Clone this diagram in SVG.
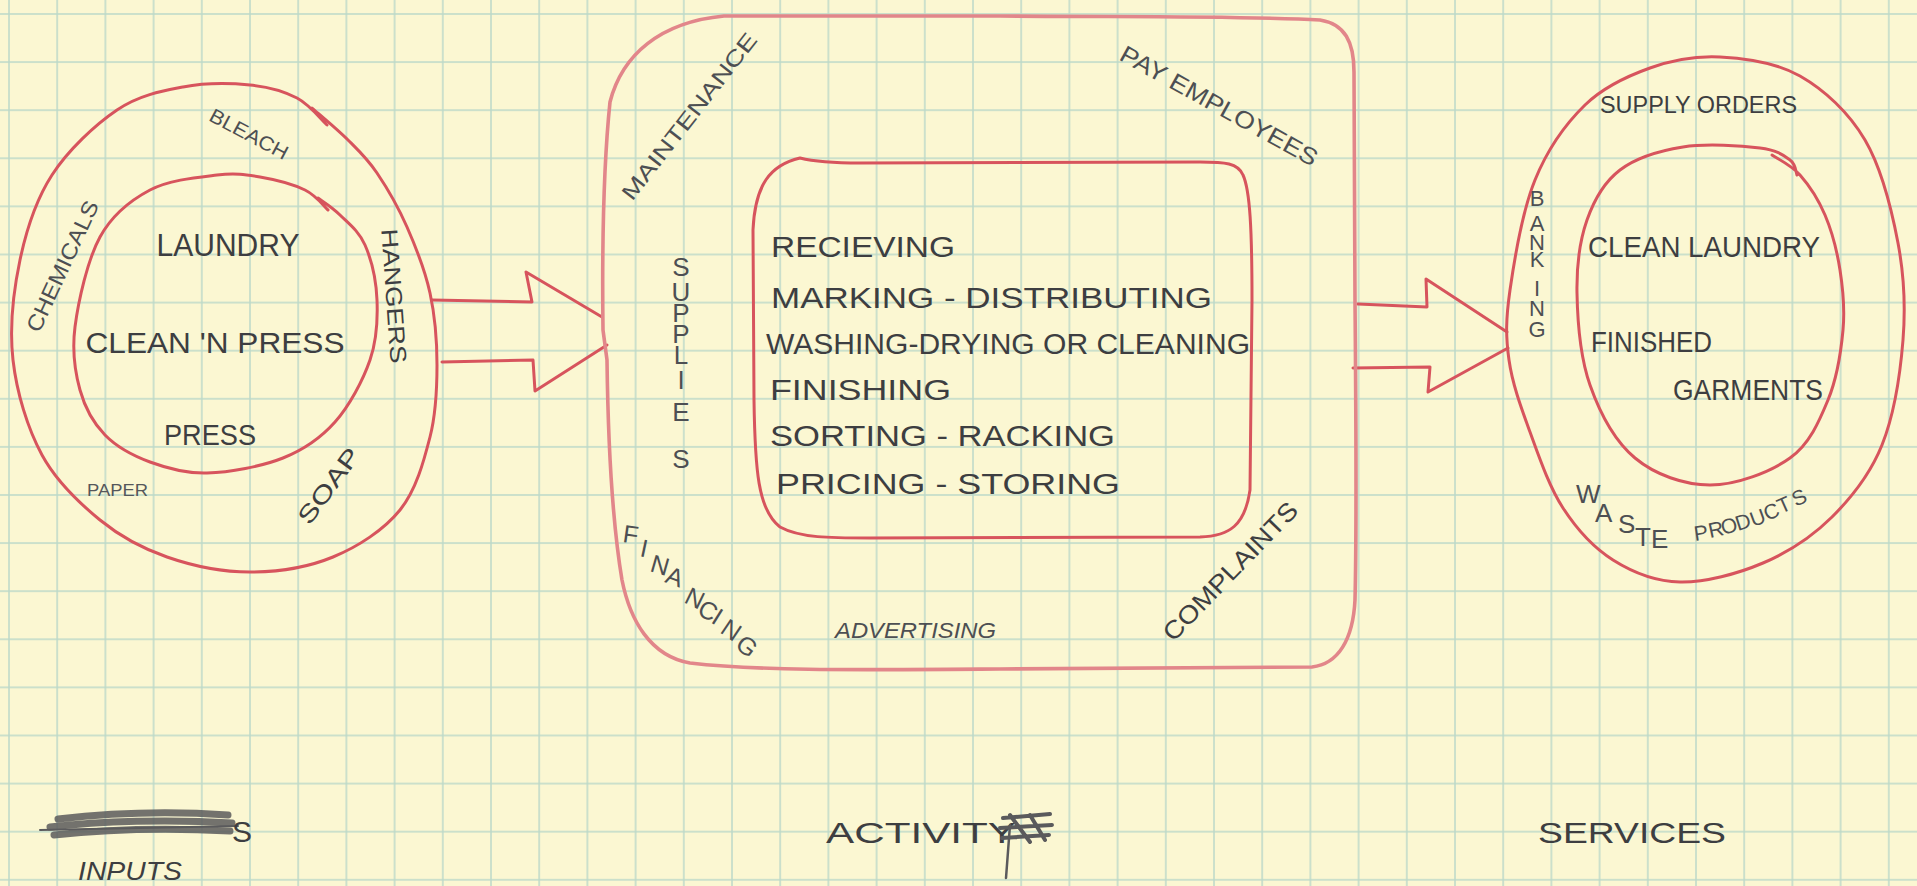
<svg xmlns="http://www.w3.org/2000/svg" width="1917" height="886" viewBox="0 0 1917 886">
<defs>
<pattern id="grid" patternUnits="userSpaceOnUse" x="8" y="13" width="48.2" height="48.1">
<path d="M1,0 V48.1 M0,1 H48.2" fill="none" stroke="#bcd9c9" stroke-width="1.5"/>
</pattern>
</defs>
<style>
.red{fill:none;stroke:#d7545d;stroke-width:3;stroke-linecap:round;stroke-linejoin:round}
.pink{fill:none;stroke:#e2868a;stroke-width:3.6;stroke-linecap:round;stroke-linejoin:round}
.t{font-family:"Liberation Sans",Arial,sans-serif;fill:#3d3e41}
.big{font-size:30px}
.mid{font-size:22px}
.sm{font-size:22px;fill:#4d4f53}
.xs{font-size:16px;fill:#55575b}
.scrib{fill:none;stroke:#5a5a5c;stroke-linecap:round}
</style>
<rect width="1917" height="886" fill="#fbf7d2"/>
<rect width="1917" height="886" fill="url(#grid)"/>

<g id="inputs">
<path class="red" d="M327,125 C322,120.5 309.8,104.7 297,98 C284.2,91.3 269,86.8 250,85 C231,83.2 205.2,82.8 183,87 C160.8,91.2 138.8,95.3 117,110 C95.2,124.7 68.2,150 52,175 C35.8,200 26.5,229.2 20,260 C13.5,290.8 9.3,327.5 13,360 C16.7,392.5 27.5,428.3 42,455 C56.5,481.7 79.2,503 100,520 C120.8,537 142,548.3 167,557 C192,565.7 222.3,572 250,572 C277.7,572 308,567.3 333,557 C358,546.7 383.8,530 400,510 C416.2,490 423.8,461.2 430,437 C436.2,412.8 437,389 437,365 C437,341 435,316 430,293 C425,270 415.8,247 407,227 C398.2,207 386.8,187.5 377,173 C367.2,158.5 358.8,150.8 348,140 C337.2,129.2 318,113.3 312,108"/>
<path class="red" d="M328,210 C324.2,206.7 316.3,195.5 305,190 C293.7,184.5 274.7,179.5 260,177 C245.3,174.5 235.3,172.8 217,175 C198.7,177.2 169.5,179.7 150,190 C130.5,200.3 112.5,214.2 100,237 C87.5,259.8 78.3,301.5 75,327 C71.7,352.5 75,372 80,390 C85,408 93.3,423 105,435 C116.7,447 133,455.7 150,462 C167,468.3 184.8,473.7 207,473 C229.2,472.3 261.7,466.5 283,458 C304.3,449.5 320.5,438.3 335,422 C349.5,405.7 363,380.3 370,360 C377,339.7 377.8,319.2 377,300 C376.2,280.8 371.2,259.2 365,245 C358.8,230.8 347.8,222.8 340,215 C332.2,207.2 321.7,200.8 318,198"/>
<text class="t" style="font-size:32px" x="228" y="256" text-anchor="middle" textLength="143" lengthAdjust="spacingAndGlyphs">LAUNDRY</text>
<text class="t" style="font-size:30px" x="215" y="353" text-anchor="middle" textLength="259" lengthAdjust="spacingAndGlyphs">CLEAN 'N PRESS</text>
<text class="t" style="font-size:30px" x="210" y="445" text-anchor="middle" textLength="92" lengthAdjust="spacingAndGlyphs">PRESS</text>
<text class="t sm" style="font-size:20px" transform="translate(249,134) rotate(28)" y="7" text-anchor="middle" textLength="86" lengthAdjust="spacingAndGlyphs">BLEACH</text>
<text class="t sm" transform="translate(62,266) rotate(-65)" y="8" text-anchor="middle" textLength="142" lengthAdjust="spacingAndGlyphs">CHEMICALS</text>
<text class="t" style="font-size:23px" transform="translate(394,296) rotate(86)" y="8" text-anchor="middle" textLength="135" lengthAdjust="spacingAndGlyphs">HANGERS</text>
<text class="t" style="font-size:24px" transform="translate(329,486) rotate(-54)" y="8" text-anchor="middle" textLength="88" lengthAdjust="spacingAndGlyphs">SOAP</text>
<text class="t xs" x="87" y="496" textLength="61" lengthAdjust="spacingAndGlyphs">PAPER</text>
</g>

<g id="connectors">
<path class="red" d="M432,300 L532,302 L526,272 L602,317"/>
<path class="red" d="M607,345 L535,391 L533,360 L442,362"/>
<path class="red" d="M1358,304 L1427,307 L1426,279 L1507,332"/>
<path class="red" d="M1508,348 L1428,392 L1430,367 L1353,368"/>
</g>

<g id="activity">
<path class="pink" d="M610,102 C622,55 660,22 724,16 L1000,16 C1150,17 1250,16 1320,20 C1345,24 1354,42 1354,72 L1355,300 C1356,420 1357,520 1355,600 C1353,640 1338,664 1312,667 L1000,669 C850,670 760,671 690,663 C650,656 630,620 622,580 C612,520 608,440 607,360 L603,330 C602,250 603,170 610,102 Z"/>
<path class="red" d="M800,158 C770,165 755,185 753,230 L754,400 C755,470 758,510 780,527 C800,538 830,538 870,538 L1200,537 C1230,536 1245,525 1250,490 L1252,300 C1252,230 1250,190 1243,175 C1238,163 1225,162 1200,162 L860,163 C830,163 812,161 800,158"/>
<text class="t big" x="771" y="257" textLength="184" lengthAdjust="spacingAndGlyphs">RECIEVING</text>
<text class="t big" x="771" y="308" textLength="441" lengthAdjust="spacingAndGlyphs">MARKING - DISTRIBUTING</text>
<text class="t big" x="766" y="354" textLength="484" lengthAdjust="spacingAndGlyphs">WASHING-DRYING OR CLEANING</text>
<text class="t big" x="770" y="400" textLength="181" lengthAdjust="spacingAndGlyphs">FINISHING</text>
<text class="t big" x="770" y="446" textLength="345" lengthAdjust="spacingAndGlyphs">SORTING - RACKING</text>
<text class="t big" x="776" y="494" textLength="344" lengthAdjust="spacingAndGlyphs">PRICING - STORING</text>
<text class="t sm" transform="translate(689,116) rotate(-52)" y="8" text-anchor="middle" textLength="205" lengthAdjust="spacingAndGlyphs">MAINTENANCE</text>
<text class="t sm" style="font-size:24px" transform="translate(1219,106) rotate(29)" y="8" text-anchor="middle" textLength="222" lengthAdjust="spacingAndGlyphs">PAY EMPLOYEES</text>
<text class="t sm" style="font-size:26px" x="681 681 681 681 681 681 681 681" y="276 301 322 343 364 389 421 468" text-anchor="middle">SUPPLIES</text>
<text class="t sm" style="font-size:25px" x="622 639 649 664 683 696 710 719 734" y="542 556 571 582 602 614 622 632 647" rotate="8 12 16 20 26 28 32 34 38">FINANCING</text>
<text class="t sm" style="font-size:22px;font-style:italic" x="835" y="638" textLength="161" lengthAdjust="spacingAndGlyphs">ADVERTISING</text>
<text class="t" style="font-size:25px" transform="translate(1230,571) rotate(-46)" y="9" text-anchor="middle" textLength="182" lengthAdjust="spacingAndGlyphs">COMPLAINTS</text>
</g>

<g id="services">
<path class="red" d="M1650,68 C1672.5,60 1695,55.7 1720,57 C1745,58.3 1775.8,62.2 1800,76 C1824.2,89.8 1848.7,112.2 1865,140 C1881.3,167.8 1891.7,209.7 1898,243 C1904.3,276.3 1905.7,306.3 1903,340 C1900.3,373.7 1893.8,415.5 1882,445 C1870.2,474.5 1851.8,497.3 1832,517 C1812.2,536.7 1788.3,552.2 1763,563 C1737.7,573.8 1705,582.5 1680,582 C1655,581.5 1632.5,572.3 1613,560 C1593.5,547.7 1576.8,529.3 1563,508 C1549.2,486.7 1539,456.7 1530,432 C1521,407.3 1512.3,383.7 1509,360 C1505.7,336.3 1505.7,320 1510,290 C1514.3,260 1522.5,210.8 1535,180 C1547.5,149.2 1565.8,123.7 1585,105 C1604.2,86.3 1627.5,76 1650,68 Z"/>
<path class="red" d="M1797,175 C1795.8,172.5 1796.2,164.5 1790,160 C1783.8,155.5 1777.8,150.2 1760,148 C1742.2,145.8 1706.3,143.3 1683,147 C1659.7,150.7 1636,157.8 1620,170 C1604,182.2 1594.2,199.5 1587,220 C1579.8,240.5 1576.5,265.5 1577,293 C1577.5,320.5 1580.3,357.5 1590,385 C1599.7,412.5 1615,441.3 1635,458 C1655,474.7 1684.2,485 1710,485 C1735.8,485 1770.3,472.2 1790,458 C1809.7,443.8 1819.2,421.3 1828,400 C1836.8,378.7 1841,351.7 1843,330 C1845,308.3 1843,289.2 1840,270 C1837,250.8 1831.7,230.8 1825,215 C1818.3,199.2 1808.8,185 1800,175 C1791.2,165 1776.7,158.3 1772,155"/>
<text class="t mid" style="font-size:24px" x="1600" y="113" textLength="197" lengthAdjust="spacingAndGlyphs">SUPPLY ORDERS</text>
<text class="t sm" style="font-size:22px" x="1537 1537 1537 1537 1537 1537 1537" y="206 231 250 267 296 316 337" text-anchor="middle">BANKING</text>
<text class="t big" x="1588" y="257" textLength="232" lengthAdjust="spacingAndGlyphs">CLEAN LAUNDRY</text>
<text class="t big" x="1591" y="352" textLength="121" lengthAdjust="spacingAndGlyphs">FINISHED</text>
<text class="t big" x="1673" y="400" textLength="150" lengthAdjust="spacingAndGlyphs">GARMENTS</text>
<text class="t sm" style="font-size:26px" x="1576 1595 1618 1635 1651" y="503 522 533 546 548">WASTE</text>
<text class="t sm" style="font-size:21px" x="1695 1710 1723 1738 1753 1767 1781 1796" y="541 538 535 531 527 521 514 507" rotate="-8 -12 -15 -18 -20 -22 -24 -26">PRODUCTS</text>
</g>

<g id="labels">
<path class="scrib" stroke-width="7" opacity="0.85" d="M58,819 C110,813 170,811 228,815 M50,827 C100,821 170,819 232,823 M54,835 C110,829 170,828 230,831"/>
<path class="scrib" stroke-width="2" d="M40,830 L238,826"/>
<text class="t big" x="232" y="842">S</text>
<text class="t" style="font-size:26px;font-style:italic" x="78" y="880" textLength="104" lengthAdjust="spacingAndGlyphs">INPUTS</text>
<text class="t big" x="826" y="843" textLength="190" lengthAdjust="spacingAndGlyphs">ACTIVITY</text>
<path class="scrib" stroke-width="4" d="M1003,818 L1050,814 M1000,828 L1052,825 M1002,838 L1049,835 M1010,815 L1030,842 M1030,815 L1045,840"/>
<path class="scrib" stroke-width="2.5" d="M1010,825 L1006,878"/>
<text class="t big" x="1538" y="843" textLength="188" lengthAdjust="spacingAndGlyphs">SERVICES</text>
</g>
</svg>
